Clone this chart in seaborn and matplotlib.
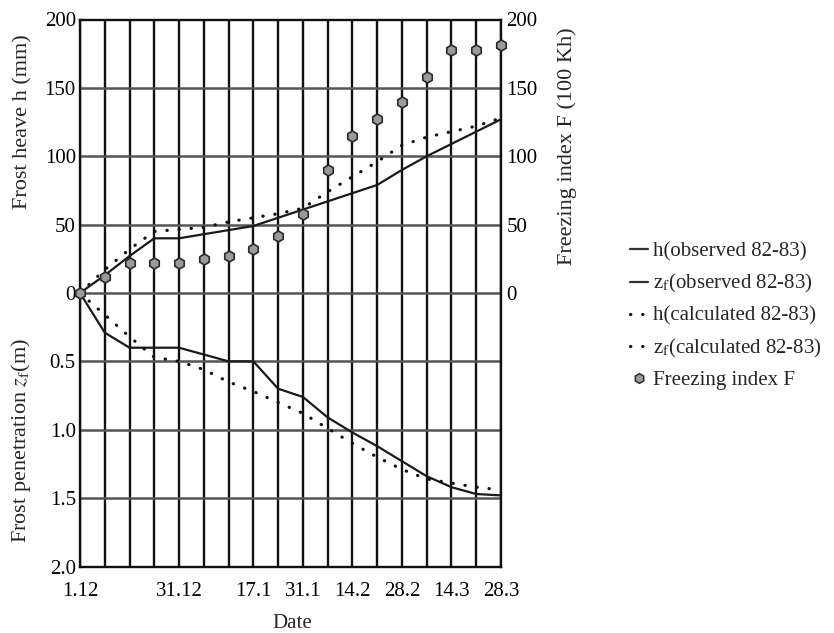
import numpy as np
import pandas as pd
import matplotlib
matplotlib.use("Agg")
import matplotlib.pyplot as plt
from matplotlib.lines import Line2D
import seaborn as sns

# Measurement steps (grid lines) from 1 December to 28 March
steps = list(range(18))
date_ticks = [0, 4, 7, 9, 11, 13, 15, 17]
date_labels = ["1.12", "31.12", "17.1", "31.1", "14.2", "28.2", "14.3", "28.3"]

# Frost heave h (mm)
h_observed = [0, 13, 27, 40, 40, 43, 46, 49, 55, 61, 67, 73, 79, 90, 100, 109, 118, 127]
h_calculated = [0, 17, 32, 45, 46.5, 48, 52, 55, 58, 62, 74, 85, 96, 108, 114, 118, 122, 128]

# Frost penetration z_f (m)
zf_observed = [0, 0.29, 0.40, 0.40, 0.40, 0.45, 0.50, 0.50, 0.70, 0.76, 0.91, 1.02,
               1.12, 1.23, 1.34, 1.42, 1.47, 1.48]
zf_calculated = [0, 0.16, 0.32, 0.47, 0.50, 0.56, 0.65, 0.72, 0.80, 0.88, 0.99, 1.10,
                 1.20, 1.29, 1.36, 1.39, 1.42, 1.44]

# Freezing index F (100 Kh)
freezing_index = [0, 12, 22, 22, 22, 25, 27, 32, 42, 58, 90, 115, 127, 140, 158, 178, 178, 181]

left_ticks = ["200", "150", "100", "50", "0", "0.5", "1.0", "1.5", "2.0"]
right_ticks = ["200", "150", "100", "50", "0"]

sns.set_theme(style="white")
plt.rcParams["font.family"] = ["Liberation Serif", "DejaVu Serif"]
plt.rcParams["mathtext.fontset"] = "stix"

fig = plt.figure(figsize=(8.34, 6.33), dpi=100)
ax = fig.add_axes([80 / 834, 1 - 566.5 / 633, 421 / 834, 547 / 633])

# depth is drawn downward on the same axis: 1 m of penetration spans 100 units
df = pd.DataFrame({
    "step": steps,
    "h_obs": h_observed,
    "h_calc": h_calculated,
    "zf_obs": [-100 * z for z in zf_observed],
    "zf_calc": [-100 * z for z in zf_calculated],
    "F": freezing_index,
})

solid_kw = dict(color="#1a1a1a", linewidth=1.6, sort=False, errorbar=None, legend=False)
dot_style = dict(linewidth=2.3, linestyle=(0, (0.1, 3.7)), dash_capstyle="round")
dot_kw = dict(color="#111111", sort=False, errorbar=None, legend=False, **dot_style)

sns.lineplot(data=df, x="step", y="h_obs", ax=ax, **solid_kw)
sns.lineplot(data=df, x="step", y="zf_obs", ax=ax, **solid_kw)
sns.lineplot(data=df, x="step", y="h_calc", ax=ax, **dot_kw)
sns.lineplot(data=df, x="step", y="zf_calc", ax=ax, **dot_kw)

ax.set_xlim(0, 17)
ax.set_ylim(-200, 200)

# grid: black verticals at every step, grey horizontals every 50 units
for s in steps:
    ax.axvline(s, color="#111111", linewidth=1.7, zorder=0.5)
for yv in range(-150, 200, 50):
    ax.axhline(yv, color="#555555", linewidth=1.8, zorder=0.5)

ax.set_yticks(list(range(200, -201, -50)))
ax.set_yticklabels(left_ticks)
ax.set_xticks(date_ticks)
ax.set_xticklabels(date_labels)
ax.tick_params(axis="both", length=0, labelsize=15, colors="black")
ax.tick_params(axis="y", pad=3)
ax.tick_params(axis="x", pad=11)
ax.set_xlabel("")
ax.set_ylabel("")
for sp in ax.spines.values():
    sp.set_color("#111111")
    sp.set_linewidth(1.7)

# right axis for the freezing index (same scale, upper half only)
ax2 = ax.twinx()
ax2.set_ylim(-200, 200)
sns.scatterplot(data=df, x="step", y="F", ax=ax2, marker="h", s=62,
                color="#9a9a9a", edgecolor="#2a2a2a", linewidth=1.2,
                legend=False, zorder=5, clip_on=False)
ax2.set_yticks([200, 150, 100, 50, 0])
ax2.set_yticklabels(right_ticks)
ax2.tick_params(axis="y", length=0, labelsize=15, pad=4, colors="black")
ax2.set_ylabel("")
ax2.set_xlabel("")
for sp in ax2.spines.values():
    sp.set_visible(False)

fig.text(23 / 834, 1 - 122 / 633, "Frost heave h (mm)", rotation=90,
         ha="center", va="center", fontsize=16)
fig.text(21 / 834, 1 - 440 / 633, r"Frost penetration $z_{\mathrm{f}}$(m)", rotation=90,
         ha="center", va="center", fontsize=16)
fig.text(567 / 834, 1 - 146 / 633, "Freezing index F (100 Kh)", rotation=90,
         ha="center", va="center", fontsize=16)
fig.text(292 / 834, 1 - 623 / 633, "Date", ha="center", va="center", fontsize=15)

handles = [
    Line2D([], [], color="#333333", linewidth=1.6),
    Line2D([], [], color="#333333", linewidth=1.6),
    Line2D([], [], color="#111111", **dot_style),
    Line2D([], [], color="#111111", **dot_style),
    Line2D([], [], linestyle="none", marker="h", markersize=7,
           markerfacecolor="#9a9a9a", markeredgecolor="#2a2a2a", markeredgewidth=1.1),
]
labels = [
    "h(observed 82-83)",
    r"z$_{\mathrm{f}}$(observed 82-83)",
    "h(calculated 82-83)",
    r"z$_{\mathrm{f}}$(calculated 82-83)",
    "Freezing index F",
]
fig.legend(handles, labels, loc="upper left", bbox_to_anchor=(630 / 834, 1 - 242 / 633),
           frameon=False, fontsize=15, handlelength=0.85, handletextpad=0.25,
           labelspacing=0.52, borderaxespad=0, borderpad=0)

fig.savefig("out.png", dpi=100, facecolor="white")
